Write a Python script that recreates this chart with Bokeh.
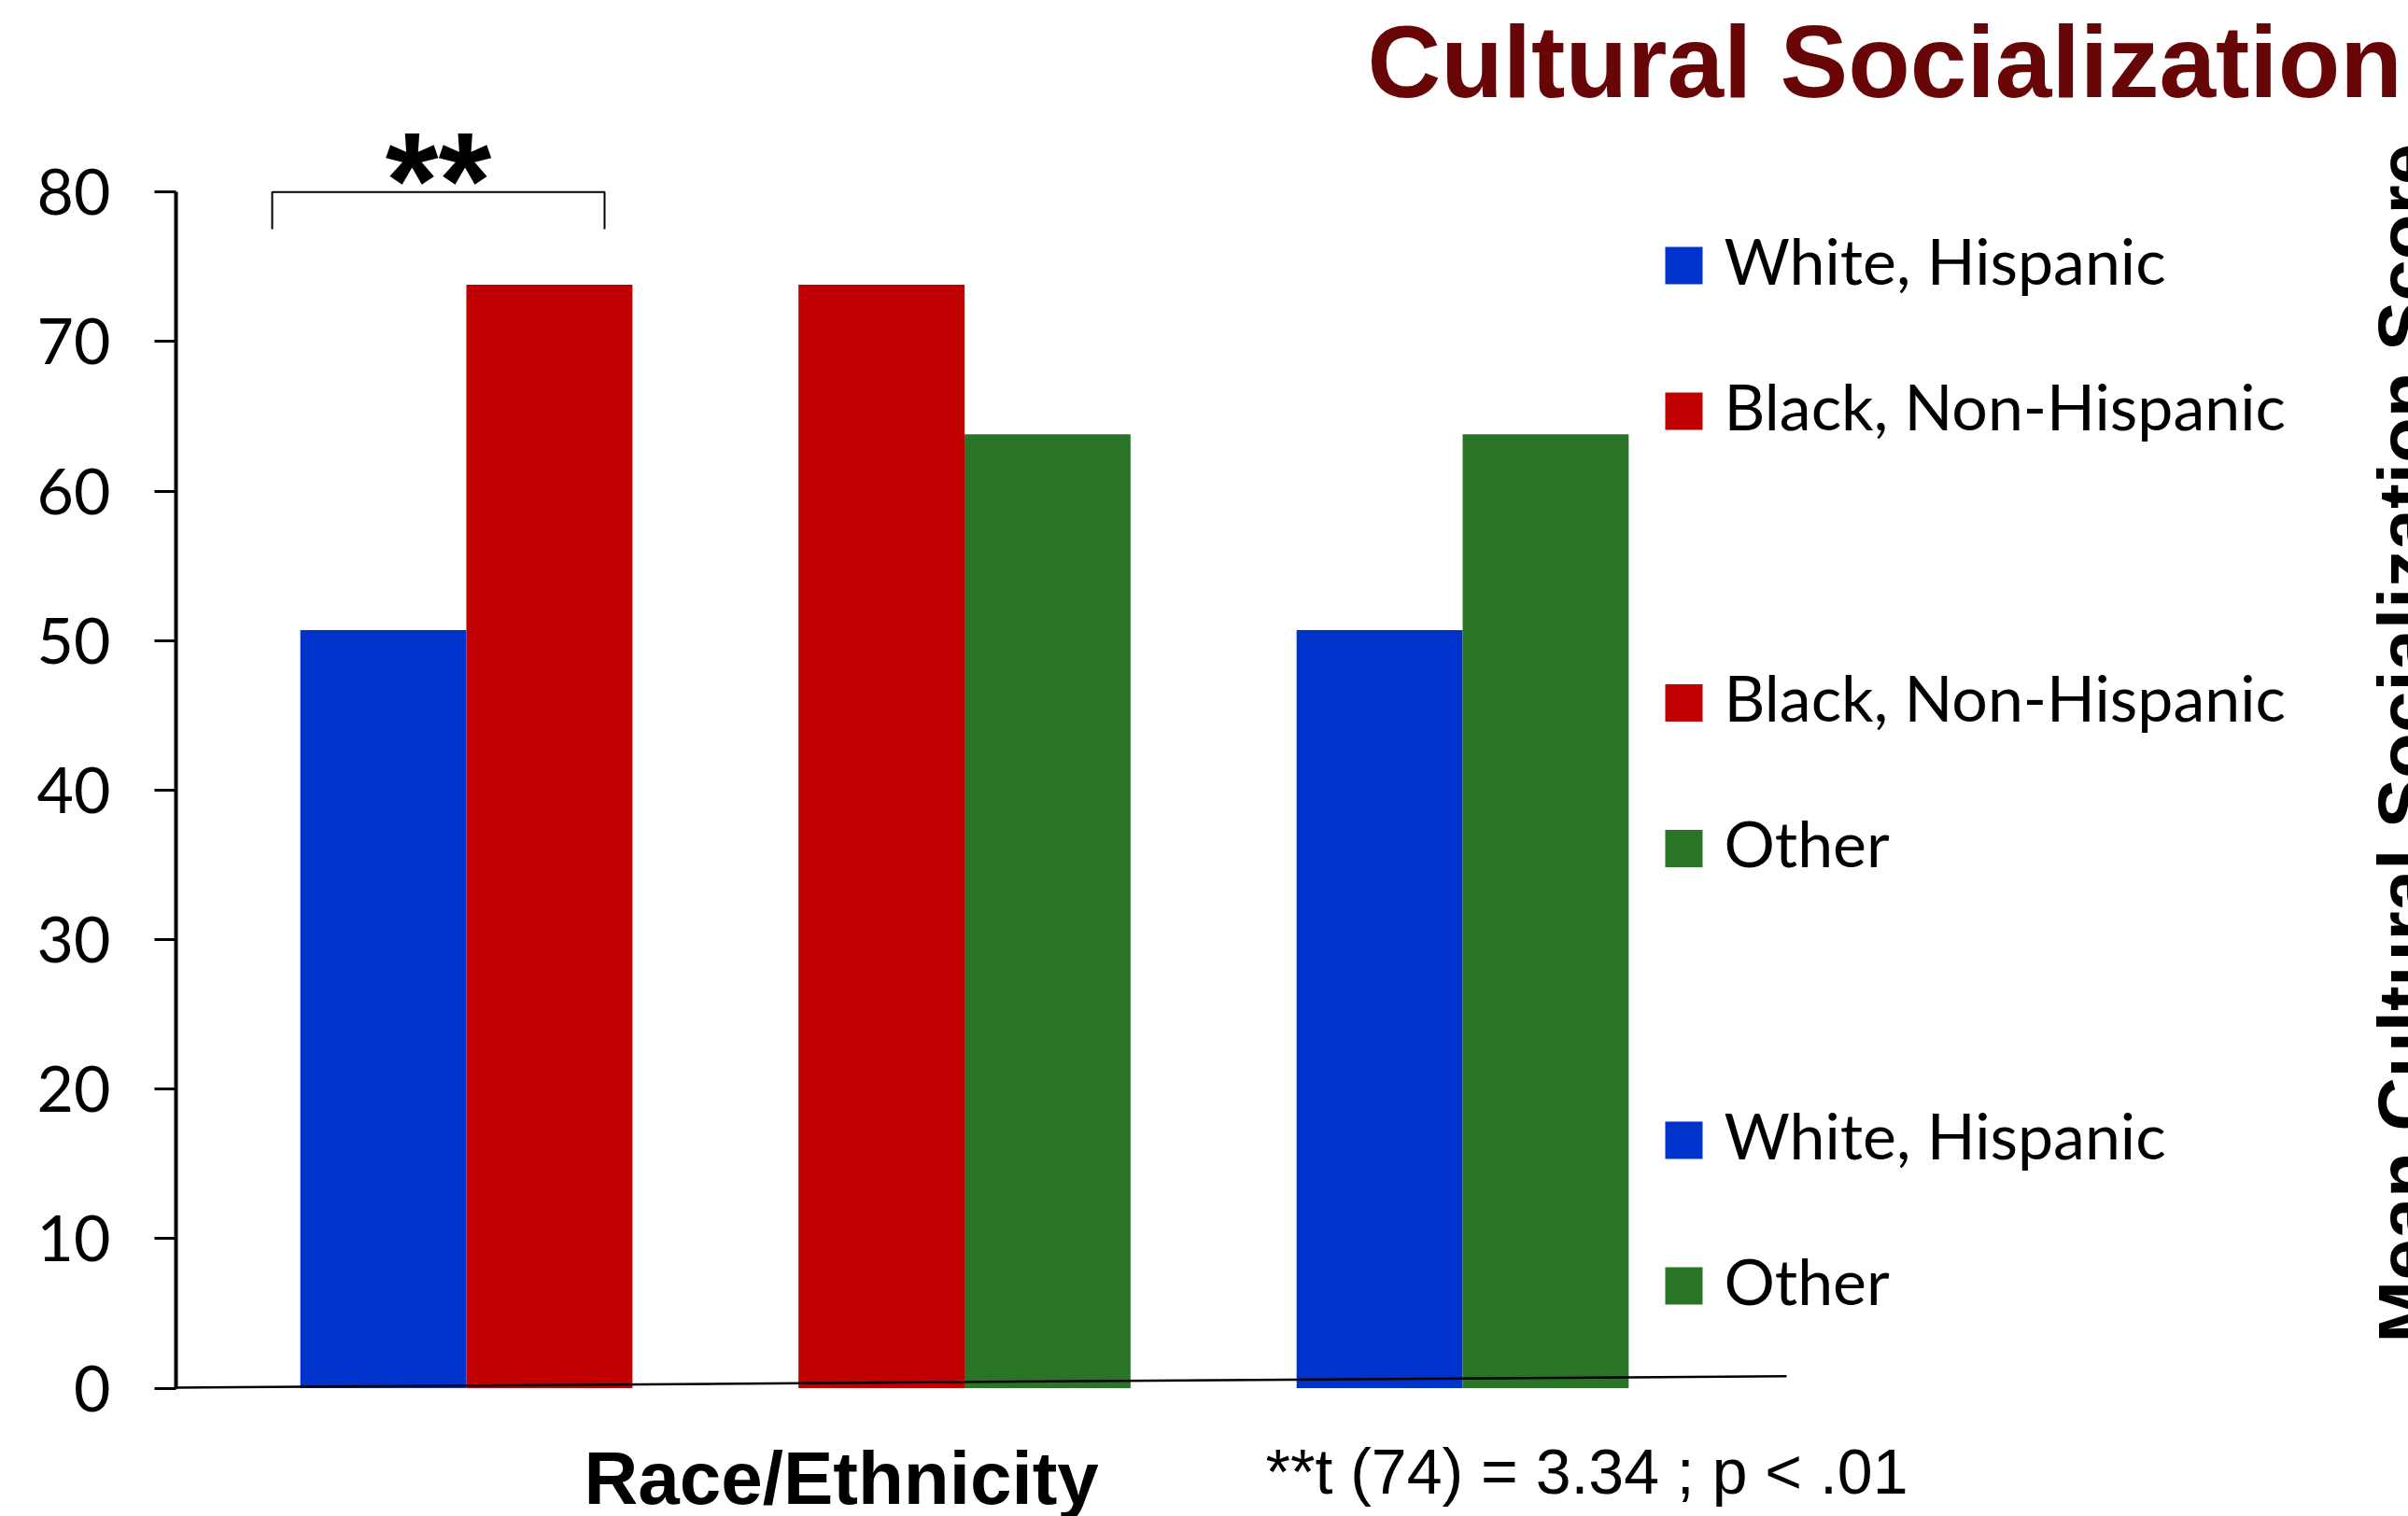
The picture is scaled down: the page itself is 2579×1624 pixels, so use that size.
import math
from bokeh.plotting import figure
from bokeh.models import Range1d, FixedTicker, ColumnDataSource
from bokeh.core.properties import value
from bokeh.embed import file_html
from bokeh.resources import INLINE

# ---------------- data ----------------
comparisons = [0, 1, 2]
left_groups = ["White, Hispanic", "Black, Non-Hispanic", "White, Hispanic"]
left_values = [50.7, 73.8, 50.7]
right_groups = ["Black, Non-Hispanic", "Other", "Other"]
right_values = [73.8, 63.8, 63.8]
group_colors = {
    "White, Hispanic": "#0033CC",
    "Black, Non-Hispanic": "#C00000",
    "Other": "#2A7428",
}
y_ticks = [0, 10, 20, 30, 40, 50, 60, 70, 80]
title_text = "Cultural Socialization"
y_label = "Mean Cultural Socialization Score"
x_label = "Race/Ethnicity"
note_text = "**t (74) = 3.34 ; p < .01"
sig_text = "**"

# ---------------- layout helpers (page pixel -> data) ----------------
W, H = 2579, 1624
X0_PX, X_STEP = 499.0, 533.5
Y0_PX, Y_STEP = 1486.5, 16.015
BASE_SHIFT = 0.40  # em correction for alphabetic baseline placement


def fx(px):
    return (px - X0_PX) / X_STEP


def fy(py):
    return (Y0_PX - py) / Y_STEP


def fy_base(py, size):
    return fy(py - BASE_SHIFT * size)


p = figure(
    width=W, height=H, output_backend="svg", toolbar_location=None,
    x_range=Range1d(fx(188), fx(W)), y_range=Range1d(fy(H), fy(0)),
    min_border_left=188, min_border_right=0, min_border_top=0, min_border_bottom=0,
)
p.title.visible = False
p.xaxis.visible = False
p.grid.visible = False
p.outline_line_color = None
p.background_fill_color = "white"
p.border_fill_color = "white"

yax = p.yaxis[0]
yax.ticker = FixedTicker(ticks=y_ticks)
yax.bounds = (y_ticks[0], y_ticks[-1])
yax.axis_line_width = 4
yax.axis_line_color = "black"
yax.major_tick_line_width = 3
yax.major_tick_line_color = "black"
yax.major_tick_out = 23
yax.major_tick_in = 0
yax.minor_tick_line_color = None
yax.major_label_standoff = 47
yax.major_label_text_font = "Lato"
yax.major_label_text_font_size = "68px"
yax.major_label_text_color = "black"

bw = 1 / 3
left_src = ColumnDataSource(dict(
    x=[c - bw / 2 for c in comparisons], top=left_values,
    color=[group_colors[g] for g in left_groups]))
right_src = ColumnDataSource(dict(
    x=[c + bw / 2 for c in comparisons], top=right_values,
    color=[group_colors[g] for g in right_groups]))
p.vbar(x="x", top="top", bottom=0, width=bw, fill_color="color", line_color=None, source=left_src)
p.vbar(x="x", top="top", bottom=0, width=bw, fill_color="color", line_color=None, source=right_src)

# slanted baseline
p.line(x=[fx(186), fx(1913)], y=[fy(1486), fy(1473.7)], line_width=2.5, line_color="black")

# significance bracket
bl, br, bb = fx(291), fx(647), fy(245)
p.line(x=[bl, bl, br, br], y=[bb, y_ticks[-1], y_ticks[-1], bb], line_width=2, line_color="black")
p.text(x=[fx(469)], y=[fy_base(251, 146)], text=[sig_text], text_font=value("Liberation Sans"),
       text_font_style="bold", text_font_size="146px", text_align="center",
       text_baseline="alphabetic", text_color="black")

# title
p.text(x=[fx(1464)], y=[fy_base(109, 109)], text=[title_text], text_font=value("Liberation Sans"),
       text_font_style="bold", text_font_size="109px", text_align="left",
       text_baseline="alphabetic", text_color="#670507")

# rotated y label (clipped at right edge)
p.text(x=[fx(2530)], y=[fy(1438)], text=[y_label], angle=math.pi / 2,
       text_font=value("Liberation Sans"), text_font_style="bold", text_font_size="80px",
       text_align="left", text_baseline="top", text_color="black")

# x label and note
p.text(x=[fx(625)], y=[fy_base(1615, 80)], text=[x_label], text_font=value("Liberation Sans"),
       text_font_style="bold", text_font_size="80px", text_align="left",
       text_baseline="alphabetic", text_color="black")
p.text(x=[fx(1355)], y=[fy_base(1603, 68)], text=[note_text], text_font=value("Liberation Sans"),
       text_font_size="68px", text_align="left", text_baseline="alphabetic", text_color="black")

# legends (one pair per comparison)
leg_x, leg_tx = fx(1803), fx(1846)
pair_gap, row_gap = 468.5, 156.0
leg_size = 68
lx, ly, lc, tx, ty, tt = [], [], [], [], [], []
for k, (lg, rg) in enumerate(zip(left_groups, right_groups)):
    for j, g in enumerate((lg, rg)):
        cy = 284 + k * pair_gap + j * row_gap
        lx.append(leg_x); ly.append(fy(cy)); lc.append(group_colors[g])
        tx.append(leg_tx); ty.append(fy_base(cy + 21, leg_size)); tt.append(g)
p.scatter(x=lx, y=ly, marker="square", size=40, fill_color=lc, line_color=None)
p.text(x=tx, y=ty, text=tt, text_font=value("Lato"), text_font_size=f"{leg_size}px",
       text_align="left", text_baseline="alphabetic", text_color="black")

open("out.html", "w").write(file_html(p, INLINE))
